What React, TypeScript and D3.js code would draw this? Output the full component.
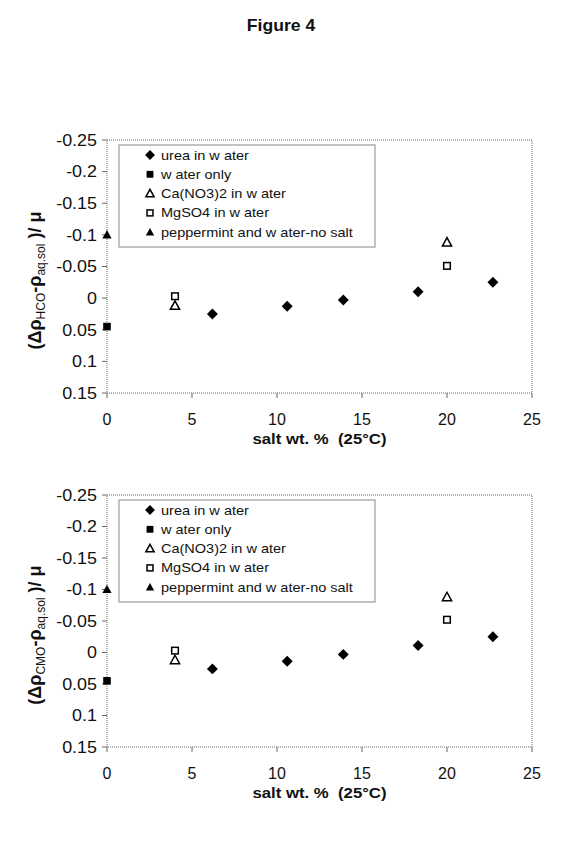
import * as d3 from "d3";

const X_TICKS = [0, 5, 10, 15, 20, 25];
const Y_TICKS = [-0.25, -0.2, -0.15, -0.1, -0.05, 0, 0.05, 0.1, 0.15];
const Y_TICK_LABELS = ["-0.25", "-0.2", "-0.15", "-0.1", "-0.05", "0", "0.05", "0.1", "0.15"];

// series values (y axis is reversed: -0.25 on top)
const ureaX = [6.2, 10.6, 13.9, 18.3, 22.7];
const ureaHCO = [0.025, 0.013, 0.003, -0.01, -0.025];
const ureaCMO = [0.026, 0.014, 0.003, -0.011, -0.025];
const waterX = [0];
const waterHCO = [0.045];
const waterCMO = [0.045];
const caX = [4, 20];
const caHCO = [0.012, -0.088];
const caCMO = [0.012, -0.088];
const mgX = [4, 20];
const mgHCO = [-0.003, -0.051];
const mgCMO = [-0.003, -0.052];
const pepX = [0];
const pepHCO = [-0.1];
const pepCMO = [-0.1];

const LEGEND = [
  "urea in w ater",
  "w ater only",
  "Ca(NO3)2 in w ater",
  "MgSO4 in w ater",
  "peppermint and w ater-no salt",
];
const KINDS = ["diamond", "square", "triOpen", "sqOpen", "triangle"];

const FONT = "'Liberation Sans', Arial, Helvetica, sans-serif";

const Marker = ({ kind, x, y, s = 1 }: { kind: string; x: number; y: number; s?: number }) => {
  if (kind === "diamond") {
    const d = d3.symbol(d3.symbolSquare, 60 * s * s)();
    return <path d={d!} transform={`translate(${x},${y}) rotate(45)`} fill="#000" />;
  }
  if (kind === "square") {
    const h = 3.8 * s;
    return <rect x={x - h} y={y - h} width={2 * h} height={2 * h} fill="#000" />;
  }
  if (kind === "sqOpen") {
    const h = 3.3 * s;
    return <rect x={x - h} y={y - h} width={2 * h} height={2 * h} fill="#fff" stroke="#000" strokeWidth={1.5} />;
  }
  const w = 4.6 * s;
  const p = `M${x},${y - 4.8 * s}L${x + w},${y + 3.6 * s}L${x - w},${y + 3.6 * s}Z`;
  if (kind === "triOpen") return <path d={p} fill="#fff" stroke="#000" strokeWidth={1.5} />;
  return <path d={p} fill="#000" />;
};

type PanelProps = { top: number; bottom: number; sub: string; ys: number[][] };

const Panel = ({ top, bottom, sub, ys }: PanelProps) => {
  const left = 107;
  const right = 532;
  const x = d3.scaleLinear().domain([0, 25]).range([left, right]);
  const y = d3.scaleLinear().domain([-0.25, 0.15]).range([top, bottom]);
  const xs = [ureaX, waterX, caX, mgX, pepX];
  const cy = (top + bottom) / 2 + 14;
  const lgTop = top + 5;

  return (
    <g fontFamily={FONT}>
      {/* plot frame, dotted */}
      <rect x={left} y={top} width={right - left} height={bottom - top} fill="none" stroke="#666" strokeDasharray="1,1" />

      {Y_TICKS.map((t, i) => (
        <g key={t}>
          <line x1={left - 5} x2={left} y1={y(t)} y2={y(t)} stroke="#666" />
          <text transform={`translate(${left - 10},${y(t) + 5.8}) scale(1.12,1)`} textAnchor="end" fontSize={16} fill="#111">
            {Y_TICK_LABELS[i]}
          </text>
        </g>
      ))}
      {X_TICKS.map((t) => (
        <g key={t}>
          <line x1={x(t)} x2={x(t)} y1={bottom} y2={bottom + 5} stroke="#666" />
          <text x={x(t)} y={bottom + 32} textAnchor="middle" fontSize={16} fill="#111">
            {t}
          </text>
        </g>
      ))}

      <text
        transform={`translate(${(left + right) / 2},${bottom + 51}) scale(1.08,1)`}
        textAnchor="middle"
        fontSize={15.5}
        fontWeight="bold"
        fill="#111"
        style={{ whiteSpace: "pre" }}
      >
        {"salt wt. %  (25°C)"}
      </text>

      <text transform={`translate(41,${cy}) rotate(-90)`} textAnchor="middle" fontSize={18} fontWeight="bold" fill="#111" style={{ whiteSpace: "pre" }}>
        <tspan>(Δρ</tspan>
        <tspan fontSize={12} fontWeight="normal" dy={4}>{sub}</tspan>
        <tspan dy={-4}>-ρ</tspan>
        <tspan fontSize={12} fontWeight="normal" dy={4}>aq.sol</tspan>
        <tspan dy={-4}>{" )/ μ"}</tspan>
      </text>

      {/* legend */}
      <rect x={119} y={lgTop} width={256} height={102} fill="#fff" stroke="#888" />
      {LEGEND.map((l, i) => (
        <g key={l}>
          <Marker kind={KINDS[i]} x={150} y={lgTop + 10 + i * 19.3} s={0.9} />
          <text transform={`translate(161,${lgTop + 14.5 + i * 19.3}) scale(1.1,1)`} fontSize={13.2} fill="#111">
            {l}
          </text>
        </g>
      ))}

      {ys.map((vals, si) =>
        vals.map((v, j) => <Marker key={`${si}-${j}`} kind={KINDS[si]} x={x(xs[si][j])} y={y(v)} />)
      )}
    </g>
  );
};

export default function App() {
  return (
    <svg width={584} height={845} style={{ position: "absolute", left: 0, top: 0, background: "#fff" }}>
      <rect width={584} height={845} fill="#fff" />
      <text transform="translate(281,31) scale(1.1,1)" textAnchor="middle" fontSize={16} fontWeight="bold" fontFamily={FONT} fill="#111">
        Figure 4
      </text>
      <Panel top={140} bottom={393} sub="HCO" ys={[ureaHCO, waterHCO, caHCO, mgHCO, pepHCO]} />
      <Panel top={495} bottom={747} sub="CMO" ys={[ureaCMO, waterCMO, caCMO, mgCMO, pepCMO]} />
    </svg>
  );
}
